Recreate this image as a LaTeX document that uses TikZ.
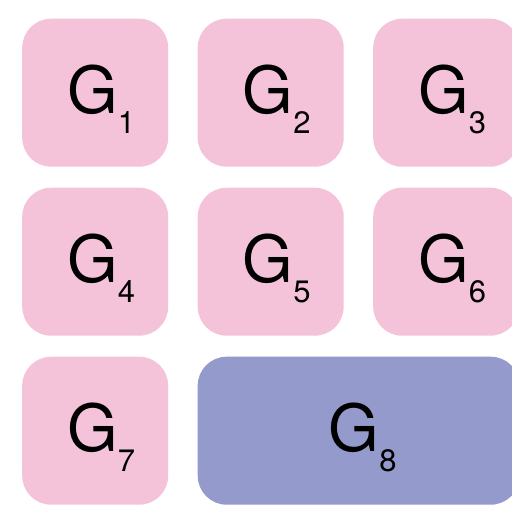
\documentclass[tikz,border=0pt]{standalone}
\usepackage{fontspec}
\setmainfont{TeX Gyre Heros}
\usetikzlibrary{calc}
\definecolor{boxpink}{HTML}{F4C3DA}
\definecolor{boxblue}{HTML}{949ACB}
\tikzset{
  tile/.style={rectangle, rounded corners=29pt, fill=boxpink, draw=none,
    minimum width=146pt, minimum height=148pt, inner sep=0pt, anchor=north west},
  widetile/.style={tile, fill=boxblue, minimum width=322pt},
  glabel/.style={anchor=base west, inner sep=0pt, text=black},
}
\newcommand{\glab}[1]{{\fontsize{65}{65}\selectfont G}{\fontsize{31}{31}\selectfont\raisebox{-20pt}{#1}}}
\begin{document}
\begin{tikzpicture}[x=1pt,y=1pt]
\useasboundingbox (0,0) rectangle (512,-505);
\clip (0,0) rectangle (512,-505);
\node[tile] (b1) at (22,-18.5) {};
\node[tile] (b2) at (197.5,-18.5) {};
\node[tile] (b3) at (373,-18.5) {};
\node[tile] (b4) at (22,-187.5) {};
\node[tile] (b5) at (197.5,-187.5) {};
\node[tile] (b6) at (373,-187.5) {};
\node[tile] (b7) at (22,-356.5) {};
\node[widetile] (b8) at (197.5,-356.5) {};
\node[glabel] (l1) at ($(b1.center)+(-28,-20.5)$) {\glab{1}};
\node[glabel] (l2) at ($(b2.center)+(-28,-20.5)$) {\glab{2}};
\node[glabel] (l3) at ($(b3.center)+(-28,-20.5)$) {\glab{3}};
\node[glabel] (l4) at ($(b4.center)+(-28,-20.5)$) {\glab{4}};
\node[glabel] (l5) at ($(b5.center)+(-28,-20.5)$) {\glab{5}};
\node[glabel] (l6) at ($(b6.center)+(-28,-20.5)$) {\glab{6}};
\node[glabel] (l7) at ($(b7.center)+(-28,-20.5)$) {\glab{7}};
\node[glabel] (l8) at ($(b8.center)+(-30,-20.5)$) {\glab{8}};
\end{tikzpicture}
\end{document}
